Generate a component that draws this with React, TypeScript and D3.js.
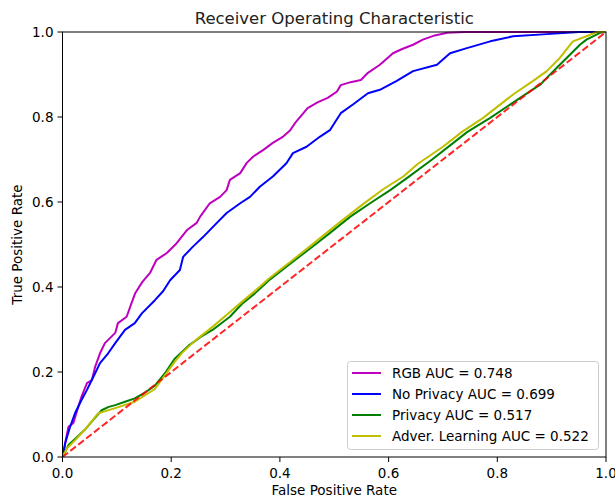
import React from "react";
import * as d3 from "d3";

const xTicks = [0, 0.2, 0.4, 0.6, 0.8, 1.0];
const yTicks = [0, 0.2, 0.4, 0.6, 0.8, 1.0];

const rgbFpr = [0, 0.002, 0.006, 0.011, 0.02, 0.029, 0.035, 0.045, 0.054, 0.06, 0.069, 0.078, 0.097, 0.102, 0.118, 0.127, 0.134, 0.147, 0.161, 0.173, 0.192, 0.21, 0.229, 0.247, 0.253, 0.271, 0.29, 0.302, 0.308, 0.327, 0.339, 0.351, 0.369, 0.387, 0.406, 0.419, 0.428, 0.451, 0.47, 0.488, 0.505, 0.512, 0.53, 0.549, 0.562, 0.584, 0.608, 0.625, 0.645, 0.663, 0.685, 0.708, 0.74, 1];
const rgbTpr = [0, 0.009, 0.04, 0.071, 0.08, 0.118, 0.142, 0.174, 0.181, 0.212, 0.244, 0.268, 0.292, 0.315, 0.33, 0.362, 0.386, 0.412, 0.433, 0.464, 0.48, 0.503, 0.534, 0.551, 0.565, 0.597, 0.612, 0.628, 0.652, 0.668, 0.692, 0.707, 0.722, 0.739, 0.754, 0.769, 0.786, 0.821, 0.835, 0.845, 0.86, 0.875, 0.882, 0.887, 0.904, 0.923, 0.95, 0.96, 0.97, 0.982, 0.992, 0.998, 1.0, 1];

const noPrivFpr = [0, 0.005, 0.014, 0.023, 0.035, 0.045, 0.06, 0.069, 0.084, 0.097, 0.115, 0.133, 0.146, 0.17, 0.185, 0.198, 0.216, 0.222, 0.24, 0.259, 0.284, 0.302, 0.327, 0.345, 0.363, 0.387, 0.412, 0.424, 0.449, 0.474, 0.492, 0.504, 0.512, 0.535, 0.562, 0.584, 0.615, 0.645, 0.689, 0.713, 0.744, 0.787, 0.829, 0.891, 0.95, 1];
const noPrivTpr = [0, 0.033, 0.071, 0.103, 0.134, 0.158, 0.197, 0.221, 0.244, 0.268, 0.299, 0.315, 0.338, 0.369, 0.39, 0.416, 0.44, 0.471, 0.495, 0.518, 0.551, 0.574, 0.597, 0.612, 0.636, 0.66, 0.691, 0.715, 0.73, 0.754, 0.769, 0.793, 0.809, 0.83, 0.856, 0.864, 0.885, 0.908, 0.923, 0.95, 0.962, 0.978, 0.99, 0.995, 1.0, 1];

const privFpr = [0, 0.011, 0.025, 0.041, 0.055, 0.072, 0.085, 0.097, 0.115, 0.133, 0.15, 0.17, 0.19, 0.207, 0.232, 0.255, 0.276, 0.308, 0.33, 0.354, 0.382, 0.419, 0.455, 0.49, 0.529, 0.566, 0.603, 0.64, 0.68, 0.715, 0.745, 0.787, 0.842, 0.879, 0.891, 0.915, 0.934, 0.952, 0.964, 0.989, 1];
const privTpr = [0, 0.028, 0.045, 0.064, 0.085, 0.11, 0.118, 0.122, 0.13, 0.138, 0.15, 0.168, 0.2, 0.232, 0.262, 0.283, 0.299, 0.33, 0.36, 0.385, 0.418, 0.455, 0.49, 0.525, 0.565, 0.597, 0.628, 0.662, 0.7, 0.735, 0.765, 0.798, 0.845, 0.876, 0.892, 0.923, 0.947, 0.97, 0.982, 0.998, 1];

const advFpr = [0, 0.008, 0.025, 0.041, 0.066, 0.097, 0.133, 0.17, 0.207, 0.22, 0.245, 0.275, 0.306, 0.33, 0.355, 0.38, 0.4, 0.43, 0.474, 0.51, 0.553, 0.59, 0.627, 0.654, 0.7, 0.735, 0.774, 0.829, 0.866, 0.891, 0.915, 0.939, 0.964, 0.983, 1];
const advTpr = [0, 0.02, 0.042, 0.064, 0.103, 0.115, 0.13, 0.16, 0.225, 0.245, 0.275, 0.305, 0.339, 0.365, 0.392, 0.42, 0.44, 0.47, 0.515, 0.552, 0.595, 0.63, 0.66, 0.69, 0.73, 0.765, 0.798, 0.853, 0.885, 0.908, 0.939, 0.978, 0.99, 1.0, 1];

const seriesNames = ["RGB AUC = 0.748", "No Privacy AUC = 0.699", "Privacy AUC = 0.517", "Adver. Learning AUC = 0.522"];
const seriesColors = ["#bf00bf", "#0000ff", "#008000", "#bfbf00"];

const W = 615, H = 500;
const L = 62.5, R = 606, T = 32, B = 457;
const FONT = "DejaVu Sans, sans-serif";

export default function App() {
  const x = d3.scaleLinear().domain([0, 1]).range([L, R]);
  const y = d3.scaleLinear().domain([0, 1]).range([B, T]);
  const line = d3.line<[number, number]>().x(d => x(d[0])).y(d => y(d[1]));
  const series = [
    [rgbFpr, rgbTpr],
    [noPrivFpr, noPrivTpr],
    [privFpr, privTpr],
    [advFpr, advTpr],
  ].map(([f, t]) => f.map((v, i) => [v, t[i]] as [number, number]));
  const diag: [number, number][] = [[0, 0], [1, 1]];

  return (
    <svg width={W} height={H} style={{ position: "absolute", left: 0, top: 0, background: "#fff" }} fontFamily={FONT}>
      <rect x={0} y={0} width={W} height={H} fill="#fff" />
      <defs>
        <clipPath id="plot">
          <rect x={L} y={T - 2} width={R - L + 2} height={B - T + 2} />
        </clipPath>
      </defs>
      <g clipPath="url(#plot)">
        {series.map((s, i) => (
          <path key={i} d={line(s) || ""} fill="none" stroke={seriesColors[i]} strokeWidth={2} strokeLinejoin="round" />
        ))}
        <path d={line(diag) || ""} fill="none" stroke="#ff0000" strokeOpacity={0.85} strokeWidth={2} strokeDasharray="7,3" />
      </g>
      <rect x={L} y={T} width={R - L} height={B - T} fill="none" stroke="#000" strokeWidth={1} />
      {xTicks.map(t => (
        <g key={"x" + t}>
          <line x1={x(t)} x2={x(t)} y1={B} y2={B + 5} stroke="#000" />
          <text x={x(t)} y={478} textAnchor="middle" fontSize={13.5}>{t.toFixed(1)}</text>
        </g>
      ))}
      {yTicks.map(t => (
        <g key={"y" + t}>
          <line x1={L - 5} x2={L} y1={y(t)} y2={y(t)} stroke="#000" />
          <text x={L - 9} y={y(t)} dy="0.35em" textAnchor="end" fontSize={13.5}>{t.toFixed(1)}</text>
        </g>
      ))}
      <text x={(L + R) / 2} y={495} textAnchor="middle" fontSize={13.5}>False Positive Rate</text>
      <text transform={`translate(22, ${(T + B) / 2}) rotate(-90)`} textAnchor="middle" fontSize={13.5}>True Positive Rate</text>
      <text x={(L + R) / 2} y={23.5} textAnchor="middle" fontSize={16.5} fill="#222">Receiver Operating Characteristic</text>
      <rect x={347.5} y={361.5} width={251} height={88} rx={3} fill="#fff" fillOpacity={0.8} stroke="#cccccc" />
      {seriesNames.map((n, i) => (
        <g key={n}>
          <line x1={352} x2={381} y1={373 + i * 21} y2={373 + i * 21} stroke={seriesColors[i]} strokeWidth={2} />
          <text x={392} y={373 + i * 21} dy="0.35em" fontSize={13.5}>{n}</text>
        </g>
      ))}
    </svg>
  );
}
